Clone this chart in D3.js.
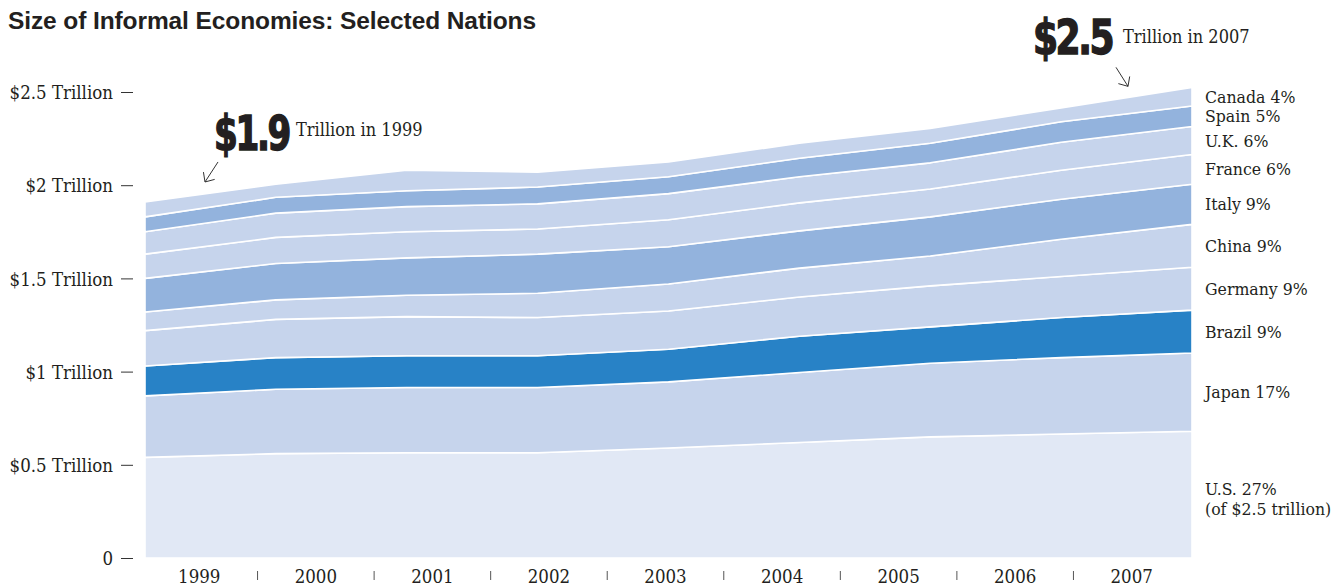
<!DOCTYPE html>
<html>
<head>
<meta charset="utf-8">
<script src="https://cdn.jsdelivr.net/npm/d3@7"></script>
<style>
body { margin: 0; background: #fff; }
svg text { fill: #231f20; }
.serif { font-family: "DejaVu Serif Condensed", "DejaVu Serif", serif; font-stretch: condensed; }
</style>
</head>
<body>
<div id="chart"></div>
<script>
var svgWidth = 1336;
var svgHeight = 586;

// data, in $ trillion
var years = [1999, 2000, 2001, 2002, 2003, 2004, 2005, 2006, 2007];
var us      = [0.54, 0.56, 0.565, 0.565, 0.59, 0.62, 0.65, 0.665, 0.68];
var japan   = [0.33, 0.345, 0.35, 0.35, 0.355, 0.375, 0.395, 0.41, 0.42];
var brazil  = [0.16, 0.17, 0.17, 0.17, 0.175, 0.195, 0.195, 0.215, 0.23];
var germany = [0.19, 0.205, 0.21, 0.205, 0.205, 0.21, 0.22, 0.22, 0.23];
var china   = [0.10, 0.105, 0.115, 0.13, 0.145, 0.155, 0.16, 0.20, 0.23];
var italy   = [0.18, 0.195, 0.20, 0.21, 0.20, 0.20, 0.21, 0.215, 0.215];
var france  = [0.13, 0.14, 0.14, 0.135, 0.145, 0.15, 0.15, 0.155, 0.16];
var uk      = [0.12, 0.13, 0.135, 0.135, 0.14, 0.14, 0.14, 0.15, 0.15];
var spain   = [0.08, 0.085, 0.085, 0.09, 0.09, 0.10, 0.105, 0.11, 0.11];
var canada  = [0.08, 0.07, 0.11, 0.08, 0.08, 0.08, 0.08, 0.075, 0.10];

var countries = ["U.S.", "Japan", "Brazil", "Germany", "China", "Italy", "France", "U.K.", "Spain", "Canada"];
var shares = ["27%", "17%", "9%", "9%", "9%", "9%", "6%", "6%", "5%", "4%"];
var colors = ["#e1e8f5", "#c6d4ec", "#2882c6", "#c6d4ec", "#c6d4ec", "#93b3dd", "#c6d4ec", "#c6d4ec", "#93b3dd", "#c6d4ec"];

var yTicks = [0, 0.5, 1, 1.5, 2, 2.5];
var yTickLabels = ["0", "$0.5 Trillion", "$1 Trillion", "$1.5 Trillion", "$2 Trillion", "$2.5 Trillion"];

var series = [us, japan, brazil, germany, china, italy, france, uk, spain, canada];

var table = years.map(function(yr, i) {
  var row = { year: yr };
  countries.forEach(function(c, j) { row[c] = series[j][i]; });
  return row;
});
var totals = table.map(function(r) { return d3.sum(countries, c => r[c]); });

var svg = d3.select("#chart")
  .append("svg")
  .attr("width", svgWidth)
  .attr("height", svgHeight);

var x = d3.scaleLinear().domain([1999, 2007]).range([145, 1192]);
var y = d3.scaleLinear().domain([0, 2.5]).range([558, 92]);
var xBand = d3.scaleBand().domain(years).range([141, 1190]);

var stacked = d3.stack().keys(countries)(table);

var area = d3.area()
  .x(d => x(d.data.year))
  .y0(d => y(d[0]))
  .y1(d => y(d[1]));

svg.append("g")
  .selectAll("path")
  .data(stacked)
  .enter()
  .append("path")
  .attr("d", area)
  .attr("fill", (d, i) => colors[i])
  .attr("stroke", "#fff")
  .attr("stroke-width", 1.6)
  .attr("stroke-linejoin", "round");

// title
svg.append("text")
  .attr("x", 8)
  .attr("y", 29)
  .style("font-family", "'Liberation Sans', Arial, sans-serif")
  .style("font-weight", "bold")
  .style("font-size", "24.5px")
  .style("letter-spacing", "-0.1px")
  .text("Size of Informal Economies: Selected Nations");

// y axis
var leftAxis = d3.axisLeft(y)
  .tickValues(yTicks)
  .tickSize(12)
  .tickPadding(8)
  .tickFormat((d, i) => yTickLabels[i]);

var yAxis = svg.append("g")
  .attr("transform", "translate(133,0)")
  .call(leftAxis);
yAxis.select(".domain").remove();
yAxis.selectAll("line").attr("stroke", "#333");
yAxis.selectAll("text")
  .attr("class", "serif")
  .attr("dy", "0.36em")
  .style("font-size", "18.5px")
  .attr("fill", "#231f20");

// x labels with separators
var xg = svg.append("g");
xg.selectAll("text")
  .data(years)
  .enter()
  .append("text")
  .attr("class", "serif")
  .attr("x", d => xBand(d) + xBand.bandwidth() / 2)
  .attr("y", 583)
  .attr("text-anchor", "middle")
  .style("font-size", "18.5px")
  .text(d => d);
xg.selectAll("line")
  .data(years.slice(1))
  .enter()
  .append("line")
  .attr("x1", d => xBand(d))
  .attr("x2", d => xBand(d))
  .attr("y1", 571)
  .attr("y2", 580)
  .attr("stroke", "#555")
  .attr("stroke-width", 1);

// labels at the right end
var last = years.length - 1;
var lg = svg.append("g");
stacked.forEach(function(s, i) {
  var mid = (s[last][0] + s[last][1]) / 2;
  var t = lg.append("text")
    .attr("class", "serif")
    .attr("x", 1205)
    .attr("y", y(mid))
    .style("font-size", "17.5px");
  if (i === 0) {
    t.append("tspan").attr("x", 1205).attr("dy", "0").text(countries[i] + " " + shares[i]);
    t.append("tspan").attr("x", 1205).attr("dy", "20").text("(of $" + d3.format(".1f")(totals[last]) + " trillion)");
  } else {
    t.attr("dy", "0.35em").text(countries[i] + " " + shares[i]);
  }
});

// callouts
function arrow(x1, y1, x2, y2) {
  var dx = x1 - x2, dy = y1 - y2;
  var len = Math.sqrt(dx * dx + dy * dy);
  var ux = dx / len, uy = dy / len;
  var a = 42 * Math.PI / 180, h = 10;
  var p1 = [x2 + h * (ux * Math.cos(a) - uy * Math.sin(a)), y2 + h * (ux * Math.sin(a) + uy * Math.cos(a))];
  var p2 = [x2 + h * (ux * Math.cos(-a) - uy * Math.sin(-a)), y2 + h * (ux * Math.sin(-a) + uy * Math.cos(-a))];
  svg.append("path")
    .attr("d", `M${x1},${y1}L${x2},${y2}M${p1[0]},${p1[1]}L${x2},${y2}L${p2[0]},${p2[1]}`)
    .attr("fill", "none")
    .attr("stroke", "#333")
    .attr("stroke-width", 1);
}

function bigNumber(px, py, value, w) {
  svg.append("text")
    .attr("x", px)
    .attr("y", py)
    .attr("textLength", w)
    .attr("lengthAdjust", "spacingAndGlyphs")
    .style("font-family", "'DejaVu Sans Condensed', 'DejaVu Sans', sans-serif")
    .style("font-stretch", "condensed")
    .style("font-weight", "bold")
    .style("font-size", "48px")
    .style("letter-spacing", "-3px")
    .style("stroke", "#231f20")
    .style("stroke-width", "1.4px")
    .text("$" + d3.format(".1f")(value));
}

var ax1 = x(years[0]), ay1 = y(totals[0]);
bigNumber(ax1 + 69, ay1 - 52, totals[0], 75);
svg.append("text")
  .attr("class", "serif")
  .attr("x", ax1 + 151)
  .attr("y", ay1 - 66)
  .style("font-size", "18px")
  .text("Trillion in " + years[0]);
arrow(ax1 + 73, ay1 - 40, ax1 + 60, ay1 - 20);

var ax2 = x(years[last]), ay2 = y(totals[last]);
bigNumber(ax2 - 159, ay2 - 33, totals[last], 79);
svg.append("text")
  .attr("class", "serif")
  .attr("x", ax2 - 69)
  .attr("y", ay2 - 44)
  .style("font-size", "18px")
  .text("Trillion in " + years[last]);
arrow(ax2 - 76, ay2 - 20, ax2 - 64, ay2 - 1);
</script>
</body>
</html>
